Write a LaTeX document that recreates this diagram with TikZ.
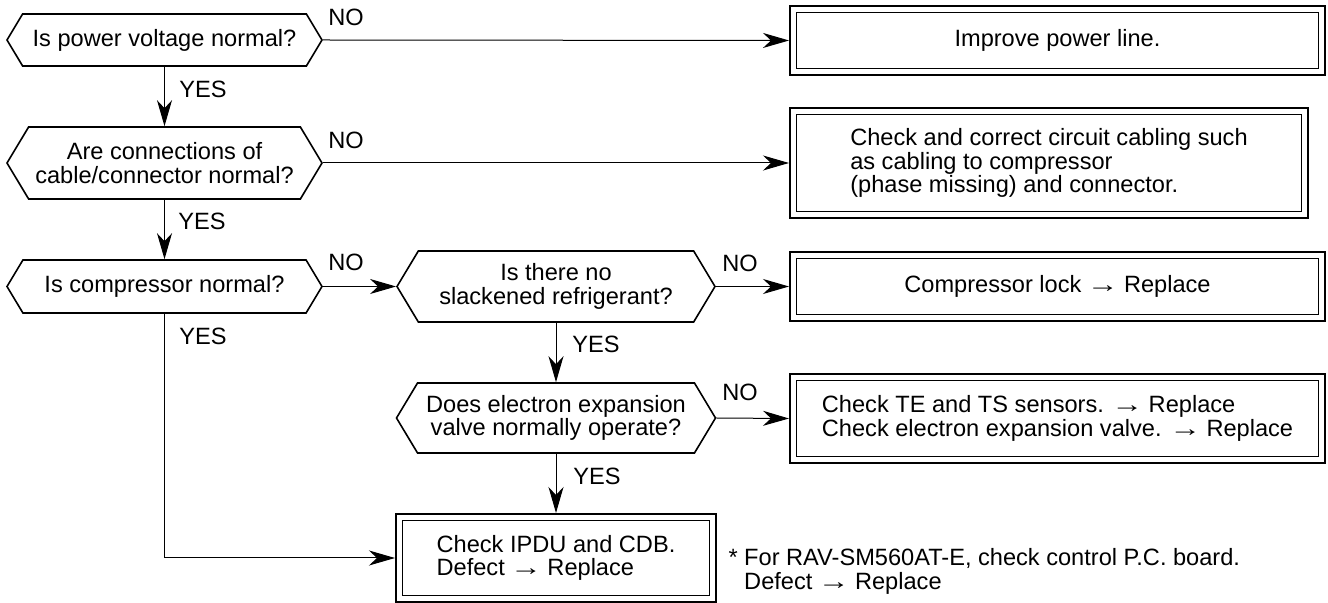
\documentclass[tikz,border=0pt]{standalone}
\usepackage{fontspec}
\setmainfont{Liberation Sans}
\usetikzlibrary{arrows.meta,shapes.symbols}

\newcommand{\then}{\kern-0.05em\scalebox{1.35}[1]{→}\kern-0.05em}
\tikzset{
  ask/.style={draw,line width=0.8pt,shape=signal,signal to=west and east,
    signal pointer angle=118,align=center,inner sep=0pt},
  fix/.style={draw,line width=1pt,inner sep=0pt,
    path picture={\draw[line width=0.45pt]
      ([shift={(3.3pt,-3.3pt)}]path picture bounding box.north west) rectangle
      ([shift={(-3.3pt,3.3pt)}]path picture bounding box.south east);}},
}

\begin{document}
\begin{tikzpicture}[x=0.5pt,y=-0.5pt,font=\fontsize{11.8}{11.8}\selectfont,
  >={Stealth[length=13pt,width=7.5pt,inset=4pt]},line width=0.5pt]
\useasboundingbox (0,0) rectangle (1328,603);
% questions
\node[ask,minimum width=315*0.5pt,minimum height=52*0.5pt] (power) at (164.5,40) {Is power voltage normal?};
\node[ask,minimum width=315*0.5pt,minimum height=72*0.5pt] (cable) at (164.5,163) {Are connections of\\cable/connector normal?};
\node[ask,minimum width=315*0.5pt,minimum height=53*0.5pt] (comp) at (164.5,286.5) {Is compressor normal?};
\node[ask,minimum width=318*0.5pt,minimum height=71*0.5pt] (refrig) at (556,286.5) {Is there no\\slackened refrigerant?};
\node[ask,minimum width=319*0.5pt,minimum height=70*0.5pt] (valve) at (556,418) {Does electron expansion\\valve normally operate?};
% remedies
\node[fix,align=center,minimum width=535*0.5pt,minimum height=69*0.5pt] (fixline) at (1057.5,40.5) {Improve power line.};
\node[fix,align=left,minimum width=518*0.5pt,minimum height=110*0.5pt] (fixcable) at (1049,163) {Check and correct circuit cabling such\\as cabling to compressor\\(phase missing) and connector.};
\node[fix,align=center,minimum width=535*0.5pt,minimum height=69*0.5pt] (lock) at (1057.5,286.5) {Compressor lock \then{} Replace};
\node[fix,align=left,minimum width=535*0.5pt,minimum height=89*0.5pt] (sensors) at (1057.5,418.5) {Check TE and TS sensors. \then{} Replace\\Check electron expansion valve. \then{} Replace};
\node[fix,align=left,minimum width=320*0.5pt,minimum height=88*0.5pt] (ipdu) at (556,558) {Check IPDU and CDB.\\Defect \then{} Replace};
\node[anchor=north west,align=left,inner sep=0pt] (note) at (728,548) {* For RAV-SM560AT-E, check control P.C. board.\\\phantom{* }Defect \then{} Replace};
% answers
\node (no1) at (346,17) {NO};
\node (yes1) at (203,89.5) {YES};
\node (no2) at (346,140) {NO};
\node (yes2) at (202,221) {YES};
\node (no3) at (346,262) {NO};
\node (yes3) at (203,336) {YES};
\node (no4) at (740,263) {NO};
\node (yes4) at (596,344) {YES};
\node (no5) at (740,392) {NO};
\node (yes5) at (597,476) {YES};
% connectors
\draw[->] (power.east) -- (fixline.west);
\draw[->] (power.south) -- (cable.north);
\draw[->] (cable.east) -- (fixcable.west);
\draw[->] (cable.south) -- (comp.north);
\draw[->] (comp.east) -- (refrig.west);
\draw[->] (refrig.east) -- (lock.west);
\draw[->] (refrig.south) -- (valve.north);
\draw[->] (valve.east) -- (sensors.west);
\draw[->] (valve.south) -- (ipdu.north);
\draw[->] (comp.south) |- (ipdu.west);
\end{tikzpicture}
\end{document}
